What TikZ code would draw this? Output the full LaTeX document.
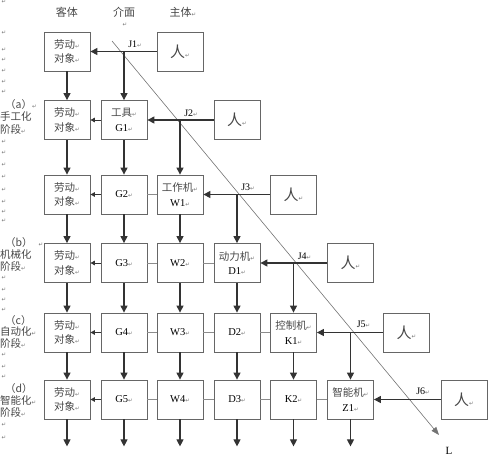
\documentclass[tikz,border=0pt]{standalone}
\usepackage{fontspec}
\setmainfont{Liberation Serif}
\newfontfamily\cjk{Noto Sans CJK SC}
\newfontfamily\djv{DejaVu Sans}
\usetikzlibrary{arrows.meta}
\newcommand\retm{{\djv\fontsize{5.5}{6}\selectfont\textcolor{black!55}{↵}}}
\newcommand\zh[1]{{\cjk\color{black!72}#1}}
\begin{document}
\begin{tikzpicture}[x=1pt,y=-1pt,
  box/.style={draw=black!60, line width=0.8pt, minimum width=46pt, minimum height=39pt,
    inner sep=0pt, align=center, font=\fontsize{10.5}{14.5}\selectfont},
  pbox/.style={box, font=\fontsize{15}{15}\selectfont},
  conn/.style={draw=black!80, line width=1.1pt, -{Triangle[length=7pt,width=7pt]}},
  sconn/.style={draw=black!80, line width=1pt, -{Triangle[length=4.5pt,width=4.5pt]}},
  link/.style={draw=black!45, line width=0.9pt},
  diag/.style={draw=black!55, line width=0.6pt, -{Triangle[length=8pt,width=6pt]}},
  jl/.style={font=\fontsize{10}{10}\selectfont, inner sep=0pt},
  hd/.style={font=\fontsize{11}{11}\selectfont, inner sep=0pt},
  stg/.style={font=\fontsize{10.5}{11}\selectfont, inner sep=0pt, anchor=west},
  mk/.style={inner sep=0pt}]
\useasboundingbox (0,0) rectangle (488,461);
% headers
\node[hd] (h1) at (67,12) {\zh{客体}};
\node[hd] (h2) at (124,12) {\zh{介面}};
\node[hd] (h3) at (183,12) {\zh{主体}\retm};
\node[mk] (h4) at (125,25) {\retm};
% left margin marks
\foreach \yy [count=\i] in {2,33,50,60,71,82,92,142,153,165,177,190,202,212,221,278,290,300,310,355,367,377,425,438}
  \node[mk] (m\i) at (4,\yy) {\retm};
% stage labels
\node[stg] (a1) at (5,105) {\zh{（a）}\retm};
\node[stg] (a2) at (0,117) {\zh{手工化}};
\node[stg] (a3) at (0,129) {\zh{阶段}\retm};
\node[stg] (b1) at (5,243) {\zh{（b）}};
\node[mk] (b0) at (41,245) {\retm};
\node[stg] (b2) at (0,255) {\zh{机械化}};
\node[stg] (b3) at (0,266) {\zh{阶段}\retm};
\node[stg] (c1) at (5,321) {\zh{（c）}};
\node[stg] (c2) at (0,332) {\zh{自动化}\retm};
\node[stg] (c3) at (0,343) {\zh{阶段}\retm};
\node[stg] (d1l) at (5,389) {\zh{（d）}};
\node[stg] (d2l) at (0,400) {\zh{智能化}\retm};
\node[stg] (d3l) at (0,412) {\zh{阶段}\retm};
% labour objects
\foreach \r/\yy in {0/51.5,1/120,2/194.5,3/263,4/332.5,5/399.5}
  \node[box] (l\r) at (67,\yy) {\zh{劳动}\retm\\\zh{对象}\retm};
% tools
\node[box] (g1) at (124,120) {\zh{工具}\retm\\G1\retm};
\node[box] (g2) at (124,194.5) {G2\retm};
\node[box] (g3) at (124,263) {G3\retm};
\node[box] (g4) at (124,332.5) {G4\retm};
\node[box] (g5) at (124,399.5) {G5\retm};
% working machines
\node[box] (w1) at (180,194.5) {\zh{工作机}\retm\\W1\retm};
\node[box] (w2) at (180,263) {W2\retm};
\node[box] (w3) at (180,332.5) {W3\retm};
\node[box] (w4) at (180,399.5) {W4\retm};
% power machines
\node[box] (d1) at (237,263) {\zh{动力机}\retm\\D1\retm};
\node[box] (d2) at (237,332.5) {D2\retm};
\node[box] (d3) at (237,399.5) {D3\retm};
% control machines
\node[box] (k1) at (293.5,332.5) {\zh{控制机}\retm\\K1\retm};
\node[box] (k2) at (293.5,399.5) {K2\retm};
% intelligent machine
\node[box] (z1) at (350.5,399.5) {\zh{智能机}\retm\\Z1\retm};
% persons
\node[pbox] (p0) at (180,51.5) {\zh{人}\retm};
\node[pbox] (p1) at (237,120) {\zh{人}\retm};
\node[pbox] (p2) at (293.5,194.5) {\zh{人}\retm};
\node[pbox] (p3) at (350.5,263) {\zh{人}\retm};
\node[pbox] (p4) at (406.5,332.5) {\zh{人}\retm};
\node[pbox] (p5) at (464,399.5) {\zh{人}\retm};
% diagonal
\coordinate (ds) at (112,41);
\coordinate (de) at (439,435);
\draw[diag] (ds) -- (de);
\node[hd] (lab) at (449,451) {L};
% junctions
\coordinate (j1) at (g1 |- p0);
\coordinate (j2) at (w1 |- p1);
\coordinate (j3) at (d1 |- p2);
\coordinate (j4) at (k1 |- p3);
\coordinate (j5) at (z1 |- p4);
\coordinate (j6) at (400,399.5);
\draw[conn] (p0.west) -- (l0.east);
\draw[conn] (p1.west) -- (g1.east);
\draw[conn] (p2.west) -- (w1.east);
\draw[conn] (p3.west) -- (d1.east);
\draw[conn] (p4.west) -- (k1.east);
\draw[conn] (p5.west) -- (z1.east);
\draw[conn] (j1) -- (g1.north);
\draw[conn] (j2) -- (w1.north);
\draw[conn] (j3) -- (d1.north);
\draw[conn] (j4) -- (k1.north);
\draw[conn] (j5) -- (z1.north);
\node[jl] (jl1) at ([xshift=11pt,yshift=7pt]j1) {J1\retm};
\node[jl] (jl2) at ([xshift=11pt,yshift=7pt]j2) {J2\retm};
\node[jl] (jl3) at ([xshift=11pt,yshift=7pt]j3) {J3\retm};
\node[jl] (jl4) at ([xshift=11pt,yshift=7pt]j4) {J4\retm};
\node[jl] (jl5) at ([xshift=13pt,yshift=8pt]j5) {J5\retm};
\node[jl] (jl6) at ([xshift=23pt,yshift=8pt]j6) {J6\retm};
% tool to object
\foreach \r in {1,...,5} \draw[sconn] (g\r.west) -- (l\r.east);
% links between machines
\draw[link] (g2.east) -- (w1.west);
\draw[link] (g3.east) -- (w2.west) (w2.east) -- (d1.west);
\draw[link] (g4.east) -- (w3.west) (w3.east) -- (d2.west) (d2.east) -- (k1.west);
\draw[link] (g5.east) -- (w4.west) (w4.east) -- (d3.west) (d3.east) -- (k2.west) (k2.east) -- (z1.west);
% vertical flows
\foreach \r [evaluate=\r as \n using int(\r+1)] in {0,...,4} \draw[conn] (l\r.south) -- (l\n.north);
\foreach \r [evaluate=\r as \n using int(\r+1)] in {1,...,4} \draw[conn] (g\r.south) -- (g\n.north);
\foreach \r [evaluate=\r as \n using int(\r+1)] in {1,...,3} \draw[conn] (w\r.south) -- (w\n.north);
\foreach \r [evaluate=\r as \n using int(\r+1)] in {1,2} \draw[conn] (d\r.south) -- (d\n.north);
\draw[conn] (k1.south) -- (k2.north);
% outputs
\foreach \nn in {l5,g5,w4,d3,k2,z1} {
  \coordinate (o\nn) at ([yshift=-27pt]\nn.south);
  \draw[conn] (\nn.south) -- (o\nn);
}
\end{tikzpicture}
\end{document}
